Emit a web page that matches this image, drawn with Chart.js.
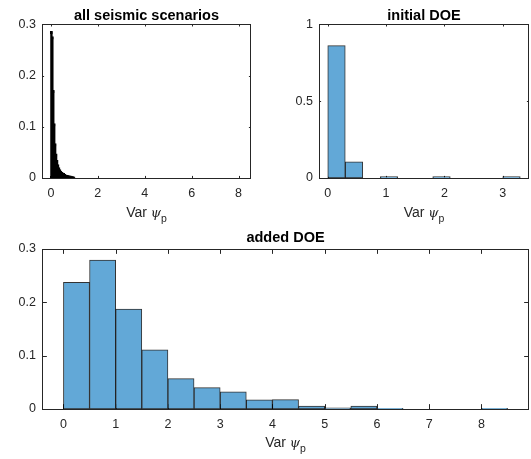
<!DOCTYPE html>
<html>
<head>
<meta charset="utf-8">
<script src="https://cdn.jsdelivr.net/npm/chart.js@4.4.1/dist/chart.umd.min.js"></script>
<style>
  body { margin: 0; background: #fff; }
  #wrap { position: relative; width: 531px; height: 459px; overflow: hidden; }
  canvas { position: absolute; left: 0; top: 0; }
  .xlabel {
    position: absolute; transform: translateX(-50%);
    font: 14px 'Liberation Sans', Arial, sans-serif; line-height: 16px;
    color: #262626; white-space: nowrap;
  }
  .psi { font-family: 'DejaVu Serif', serif; font-style: italic; font-size: 13px; }
  .sub { position: relative; top: 5px; font-size: 10.5px; }
</style>
</head>
<body>
<div id="wrap">
  <canvas id="allChart" width="531" height="459"></canvas>
  <canvas id="initChart" width="531" height="459"></canvas>
  <canvas id="addedChart" width="531" height="459"></canvas>
  <div class="xlabel" style="left:146.5px;top:204px">Var <span class="psi">ψ</span><span class="sub">p</span></div>
  <div class="xlabel" style="left:424px;top:204px">Var <span class="psi">ψ</span><span class="sub">p</span></div>
  <div class="xlabel" style="left:285.5px;top:434px">Var <span class="psi">ψ</span><span class="sub">p</span></div>
</div>
<script>
// all seismic scenarios (bin width 0.04)
const allCenters = [0.02, 0.06, 0.10, 0.14, 0.18, 0.22, 0.26, 0.30, 0.34, 0.38, 0.42, 0.46, 0.50,
  0.54, 0.58, 0.62, 0.66, 0.70, 0.74, 0.78, 0.82, 0.86, 0.90, 0.94, 0.98];
const allValues = [0.285, 0.275, 0.17, 0.105, 0.066, 0.046, 0.033, 0.025, 0.019, 0.015, 0.012, 0.010,
  0.009, 0.008, 0.006, 0.005, 0.0045, 0.004, 0.0035, 0.003, 0.003, 0.0025, 0.002, 0.0015, 0.001];
const allXTicks = [0, 2, 4, 6, 8];
const allYTicks = [0, 0.1, 0.2, 0.3];

// initial DOE (bin width 0.3)
const initCenters = [0.15, 0.45, 0.75, 1.05, 1.35, 1.65, 1.95, 2.25, 2.55, 2.85, 3.15];
const initValues = [0.862, 0.106, 0, 0.009, 0, 0, 0.009, 0, 0, 0, 0.009];
const initXTicks = [0, 1, 2, 3];
const initYTicks = [0, 0.5, 1];

// added DOE (bin width 0.5)
const addedCenters = [0.25, 0.75, 1.25, 1.75, 2.25, 2.75, 3.25, 3.75, 4.25, 4.75, 5.25, 5.75,
  6.25, 6.75, 7.25, 7.75, 8.25];
const addedValues = [0.2375, 0.279, 0.1875, 0.111, 0.057, 0.040, 0.032, 0.017, 0.0175, 0.0056,
  0.002, 0.0056, 0.0013, 0, 0, 0, 0.0013];
const addedXTicks = [0, 1, 2, 3, 4, 5, 6, 7, 8];
const addedYTicks = [0, 0.1, 0.2, 0.3];

const axisColor = "#262626";
const doeFill = "rgb(98, 168, 215)";
const doeEdge = "rgba(0, 0, 0, 0.8)";

Chart.defaults.font.family = "'Liberation Sans', Arial, sans-serif";
Chart.defaults.color = axisColor;

// matlab style box with inward ticks on all four sides
const matlabAxes = {
  id: "matlabAxes",
  beforeDatasetsDraw(chart) {
    const { ctx, chartArea: a, scales } = chart;
    const len = Math.max(a.width, a.height) * 0.01;
    ctx.save();
    ctx.strokeStyle = axisColor;
    ctx.lineWidth = 1;
    ctx.beginPath();
    scales.x.ticks.forEach((t) => {
      const px = Math.round(scales.x.getPixelForValue(t.value)) + 0.5;
      ctx.moveTo(px, a.bottom);
      ctx.lineTo(px, a.bottom - len);
      ctx.moveTo(px, a.top);
      ctx.lineTo(px, a.top + len);
    });
    scales.y.ticks.forEach((t) => {
      const py = Math.round(scales.y.getPixelForValue(t.value)) + 0.5;
      ctx.moveTo(a.left, py);
      ctx.lineTo(a.left + len, py);
      ctx.moveTo(a.right, py);
      ctx.lineTo(a.right - len, py);
    });
    ctx.stroke();
    ctx.restore();
  },
  afterDatasetsDraw(chart) {
    const { ctx, chartArea: a } = chart;
    ctx.save();
    ctx.strokeStyle = axisColor;
    ctx.lineWidth = 1;
    const l = Math.round(a.left) + 0.5;
    const t = Math.round(a.top) + 0.5;
    ctx.strokeRect(l, t, Math.round(a.right) - Math.round(a.left) - 1, Math.round(a.bottom) - Math.round(a.top));
    ctx.restore();
  },
};

function histPanel(id, centers, values, o) {
  return new Chart(document.getElementById(id), {
    type: "bar",
    data: {
      datasets: [
        {
          data: centers.map((c, i) => ({ x: c, y: values[i] })),
          backgroundColor: o.fill,
          borderColor: o.edge,
          borderWidth: 1,
          borderSkipped: false,
          inflateAmount: o.inflate,
          barPercentage: 1,
          categoryPercentage: 1,
        },
      ],
    },
    options: {
      responsive: false,
      animation: false,
      layout: { padding: o.pad },
      plugins: {
        legend: { display: false },
        tooltip: { enabled: false },
        title: {
          display: true,
          text: o.title,
          fullSize: false,
          color: "#000",
          font: { size: 14.5, weight: "bold" },
          padding: o.titlePad,
        },
      },
      scales: {
        x: {
          type: "linear",
          offset: false,
          min: o.xMin,
          max: o.xMax,
          grid: { display: false, drawTicks: false },
          border: { display: false },
          ticks: { padding: 8, font: { size: 12.5 }, callback: (v) => String(v) },
          afterBuildTicks: (s) => { s.ticks = o.xTicks.map((v) => ({ value: v })); },
          afterFit: (s) => { s.height = 30; },
        },
        y: {
          min: 0,
          max: o.yMax,
          grid: { display: false, drawTicks: false },
          border: { display: false },
          ticks: { padding: 6, font: { size: 12.5 }, callback: (v) => String(v) },
          afterBuildTicks: (s) => { s.ticks = o.yTicks.map((v) => ({ value: v })); },
          afterFit: (s) => { s.width = o.yWidth; },
        },
      },
    },
    plugins: [matlabAxes],
  });
}

histPanel("allChart", allCenters, allValues, {
  title: "all seismic scenarios",
  fill: "#000", edge: "#000", inflate: 1,
  xMin: -0.38, xMax: 8.53, yMax: 0.3,
  xTicks: allXTicks, yTicks: allYTicks, yWidth: 42,
  pad: { left: 0, right: 280, top: 0, bottom: 251 },
  titlePad: { top: 7, bottom: 0 },
});

histPanel("initChart", initCenters, initValues, {
  title: "initial DOE",
  fill: doeFill, edge: doeEdge, inflate: "auto",
  xMin: -0.15, xMax: 3.45, yMax: 1,
  xTicks: initXTicks, yTicks: initYTicks, yWidth: 49,
  pad: { left: 270, right: 2, top: 0, bottom: 251 },
  titlePad: { top: 7, bottom: 0 },
});

histPanel("addedChart", addedCenters, addedValues, {
  title: "added DOE",
  fill: doeFill, edge: doeEdge, inflate: "auto",
  xMin: -0.41, xMax: 8.91, yMax: 0.3,
  xTicks: addedXTicks, yTicks: addedYTicks, yWidth: 42,
  pad: { left: 0, right: 2, top: 220, bottom: 20 },
  titlePad: { top: 9.4, bottom: 2.2 },
});
</script>
</body>
</html>
